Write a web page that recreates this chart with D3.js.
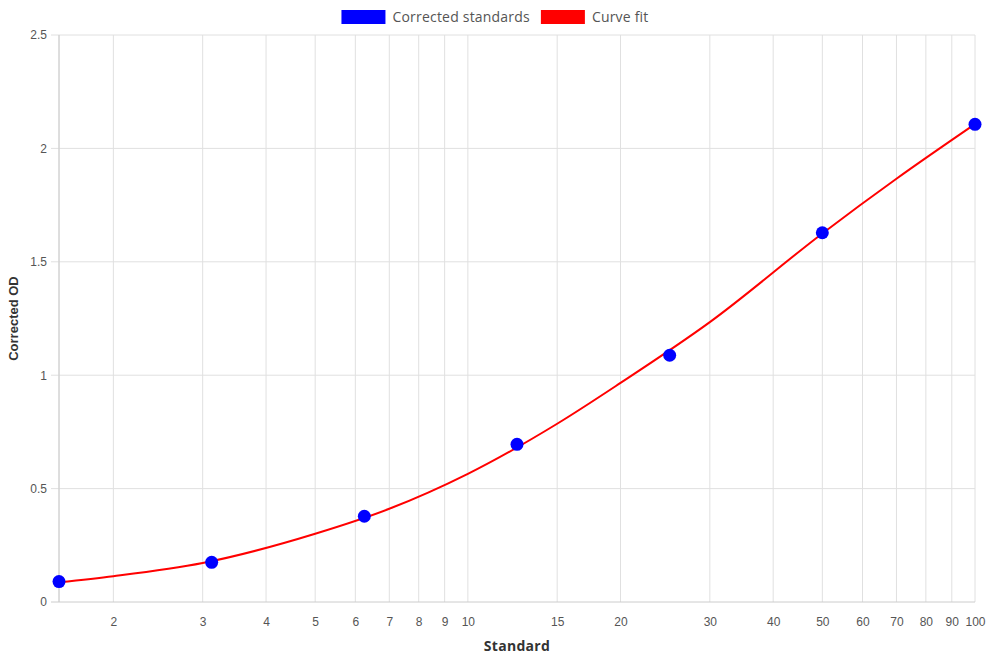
<!DOCTYPE html>
<html>
<head>
<meta charset="utf-8">
<script src="https://cdn.jsdelivr.net/npm/d3@7"></script>
<style>
  body { margin: 0; background: #fff; }
  svg { display: block; }
  .tick text { font-family: "Liberation Sans", Arial, sans-serif; font-size: 12px; fill: #555; }
</style>
</head>
<body>
<svg id="chart" width="990" height="660"></svg>
<script>
// Standards (x) and measured corrected OD (y)
const standardConc = [1.5625, 3.125, 6.25, 12.5, 25, 50, 100];
const correctedOD = [0.090, 0.175, 0.378, 0.695, 1.088, 1.628, 2.106];

// Curve fit
const fitConc = [1.5625, 2, 3, 5, 7, 10, 15, 20, 30, 50, 70, 100];
const fitOD = [0.087, 0.114, 0.172, 0.301, 0.411, 0.565, 0.786, 0.966, 1.234, 1.625, 1.866, 2.107];

const xTicks = [2, 3, 4, 5, 6, 7, 8, 9, 10, 15, 20, 30, 40, 50, 60, 70, 80, 90, 100];
const yTicks = [0, 0.5, 1, 1.5, 2, 2.5];

const legendItems = [
    { label: 'Corrected standards', color: '#0000ff' },
    { label: 'Curve fit', color: '#ff0000' }
];

const width = 990, height = 660;
const margin = { top: 35, right: 15, bottom: 58, left: 59 };

const svg = d3.select('#chart');

const x = d3.scaleLog()
    .domain([1.5625, 100])
    .range([margin.left, width - margin.right]);

const y = d3.scaleLinear()
    .domain([0, 2.5])
    .range([height - margin.bottom, margin.top]);

// Grid lines
const grid = svg.append('g').attr('class', 'grid');
grid.selectAll('.vgrid')
    .data([1.5625].concat(xTicks))
    .enter()
    .append('line')
    .attr('x1', d => x(d)).attr('x2', d => x(d))
    .attr('y1', margin.top).attr('y2', height - margin.bottom)
    .attr('stroke', '#e0e0e0');

grid.selectAll('.hgrid')
    .data(yTicks)
    .enter()
    .append('line')
    .attr('x1', margin.left - 8).attr('x2', width - margin.right)
    .attr('y1', d => y(d)).attr('y2', d => y(d))
    .attr('stroke', d => d === 0 ? '#cccccc' : '#e0e0e0');

// Axes (labels only, grid drawn above)
const xAxis = svg.append('g')
    .attr('transform', `translate(0,${height - margin.bottom})`)
    .call(d3.axisBottom(x).tickValues(xTicks).tickFormat(d3.format('d')).tickSize(0).tickPadding(15));
xAxis.select('.domain').remove();

const yAxis = svg.append('g')
    .attr('transform', `translate(${margin.left},0)`)
    .call(d3.axisLeft(y).tickValues(yTicks).tickFormat(d => d).tickSize(0).tickPadding(12));
yAxis.select('.domain').remove();

svg.append('line')
    .attr('x1', margin.left).attr('x2', margin.left)
    .attr('y1', margin.top).attr('y2', height - margin.bottom)
    .attr('stroke', '#cccccc');

// Axis titles
svg.append('text')
    .attr('x', (margin.left + width - margin.right) / 2)
    .attr('y', 651)
    .attr('text-anchor', 'middle')
    .attr('font-family', '"Open Sans", sans-serif')
    .attr('font-weight', 'bold')
    .attr('font-size', '14px')
    .attr('letter-spacing', '0.3px')
    .attr('fill', '#333')
    .text('Standard');

svg.append('text')
    .attr('transform', `translate(18,${(margin.top + height - margin.bottom) / 2}) rotate(-90)`)
    .attr('text-anchor', 'middle')
    .attr('font-family', '"Liberation Sans", Arial, sans-serif')
    .attr('font-weight', 'bold')
    .attr('font-size', '13px')
    .attr('fill', '#333')
    .text('Corrected OD');

// Curve fit
const fitData = fitConc.map((c, i) => ({ c, od: fitOD[i] }));
const line = d3.line()
    .x(d => x(d.c))
    .y(d => y(d.od))
    .curve(d3.curveMonotoneX);

svg.append('path')
    .datum(fitData)
    .attr('fill', 'none')
    .attr('stroke', '#ff0000')
    .attr('stroke-width', 2)
    .attr('d', line);

// Standards
svg.selectAll('.pt')
    .data(standardConc.map((c, i) => ({ c, od: correctedOD[i] })))
    .enter()
    .append('circle')
    .attr('cx', d => x(d.c))
    .attr('cy', d => y(d.od))
    .attr('r', 6.5)
    .attr('fill', '#0000ff');

// Legend, centred on the canvas
const legend = svg.append('g');
let cursor = 0;
legendItems.forEach(item => {
    const g = legend.append('g').attr('transform', `translate(${cursor},0)`);
    g.append('rect')
        .attr('x', 0).attr('y', 10)
        .attr('width', 44).attr('height', 14)
        .attr('fill', item.color);
    const t = g.append('text')
        .attr('x', 51).attr('y', 22)
        .attr('font-family', '"Open Sans", sans-serif')
        .attr('font-size', '14px')
        .attr('letter-spacing', '0.2px')
        .attr('fill', '#555')
        .text(item.label);
    cursor += 51 + t.node().getComputedTextLength() + 11;
});
const legendWidth = cursor - 11;
legend.attr('transform', `translate(${(width - legendWidth) / 2},0)`);
</script>
</body>
</html>
